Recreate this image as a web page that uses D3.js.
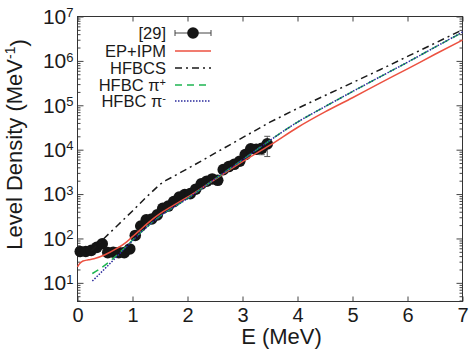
<!DOCTYPE html>
<html>
<head>
<meta charset="utf-8">
<script src="https://cdn.jsdelivr.net/npm/d3@7"></script>
<style>
body { margin: 0; background: #fff; }
svg text { font-family: "Liberation Sans", Arial, sans-serif; fill: #1a1a1a; }
</style>
</head>
<body>
<script>
// Margins around the plot box
var margin = {top: 16.5, right: 6.5, bottom: 53.5, left: 77.5};
var width = 469 - margin.left - margin.right,
    height = 355 - margin.top - margin.bottom;

// Experimental level density [29]
var expE = [0.05, 0.15, 0.25, 0.35, 0.45, 0.55, 0.65, 0.75, 0.85, 0.95,
            1.05, 1.15, 1.25, 1.35, 1.45, 1.55, 1.65, 1.75, 1.85, 1.95,
            2.05, 2.15, 2.25, 2.35, 2.45, 2.55, 2.65, 2.75, 2.85, 2.95,
            3.05, 3.15, 3.25, 3.35, 3.45];
var expRho = [51, 51, 54, 63, 76, 48, 49, 48, 48, 58,
              117, 191, 263, 275, 339, 479, 537, 676, 851, 977,
              1023, 1288, 1698, 1950, 2188, 2042, 3548, 4169, 4677, 5495,
              7762, 10500, 10200, 10700, 13500];
var expErr = [3, 3, 3, 4, 5, 3, 3, 3, 3, 4,
              7, 11, 15, 16, 19, 27, 30, 38, 48, 55,
              58, 73, 96, 110, 124, 116, 200, 240, 270, 320,
              450, 700, 1500, 3000, 6500];

// EP+IPM
var ipmE = [0, 0.05, 0.1, 0.2, 0.3, 0.5, 0.7, 0.9, 1.0, 1.1, 1.3, 1.5, 1.7,
            2.0, 2.5, 3.0, 3.5, 4.0, 4.5, 5.0, 5.5, 6.0, 6.5, 7.0];
var ipmRho = [23, 28, 31, 33, 35, 43, 58, 85, 110, 141, 234, 363, 513,
              851, 2140, 5370, 12600, 31600, 70800, 148000, 316000, 661000, 1410000, 2950000];

// HFBCS
var bcsE = [0.25, 0.5, 0.75, 1.0, 1.25, 1.5, 1.6, 2.0, 2.5, 3.0, 3.5, 4.0,
            4.5, 5.0, 5.5, 6.0, 6.5, 7.0];
var bcsRho = [52.5, 105, 209, 417, 851, 1660, 2000, 3720, 8320, 18600, 41700, 85100,
              166000, 324000, 631000, 1260000, 2510000, 5010000];

// HFBC pi+ and pi-
var hfbE = [0.27, 0.4, 0.6, 0.8, 1.0, 1.2, 1.5, 2.0, 2.5, 3.0, 3.5, 4.0,
            4.5, 5.0, 5.5, 6.0, 6.5, 7.0];
var hfbPlus = [16.2, 20.4, 31.6, 52.5, 91, 155, 316, 794, 2190, 5890, 16200, 41700,
               93300, 204000, 437000, 933000, 2040000, 4370000];
var hfbMinus = [11, 15.8, 28, 50, 89, 155, 316, 794, 2190, 5890, 16200, 41700,
                93300, 204000, 437000, 933000, 2040000, 4470000];

// Tick values
var xTicks = [0, 1, 2, 3, 4, 5, 6, 7];
var yTicks = [10, 100, 1000, 10000, 100000, 1000000, 10000000];

function draw() {
    const svg = d3.select("body")
        .append("svg")
        .attr("width", 469)
        .attr("height", 355)
        .append("g")
        .attr("transform", `translate(${margin.left},${margin.top})`);

    const x = d3.scaleLinear().domain([0, 7]).range([0, width]);
    const y = d3.scaleLog().domain([3.8, 1e7]).range([height, 0]);

    // minor ticks on the log axis
    const minors = [];
    for (let p = 0; p < 7; p++) {
        for (let k = 2; k <= 9; k++) {
            const v = k * Math.pow(10, p);
            if (v >= 3.8 && v <= 1e7) minors.push(v);
        }
    }

    function styleAxis(g) {
        g.select(".domain").remove();
        g.selectAll(".tick line").attr("stroke", "#444");
    }

    // bottom and top axes
    const gx = svg.append("g")
        .attr("transform", `translate(0,${height})`)
        .call(d3.axisBottom(x).tickValues(xTicks).tickFormat(d3.format("d"))
            .tickSizeInner(-5).tickSizeOuter(0).tickPadding(6))
        .call(styleAxis);
    gx.selectAll("text").attr("font-size", "20px").attr("fill", "#1a1a1a");

    svg.append("g")
        .call(d3.axisTop(x).tickValues(xTicks).tickSizeInner(-5).tickSizeOuter(0).tickFormat(""))
        .call(styleAxis);

    // left axis with 10^n labels
    const gy = svg.append("g")
        .call(d3.axisLeft(y).tickValues(yTicks).tickSizeInner(-6).tickSizeOuter(0).tickPadding(4))
        .call(styleAxis);
    gy.selectAll(".tick text").each(function(d) {
        const t = d3.select(this).text(null).attr("font-size", "21px").attr("fill", "#1a1a1a");
        t.append("tspan").text("10");
        t.append("tspan").attr("dy", "-0.5em").attr("font-size", "13px").text(Math.round(Math.log10(d)));
    });

    svg.append("g")
        .call(d3.axisLeft(y).tickValues(minors).tickSizeInner(-3).tickSizeOuter(0).tickFormat(""))
        .call(styleAxis);

    // right axis mirror
    svg.append("g")
        .attr("transform", `translate(${width},0)`)
        .call(d3.axisRight(y).tickValues(yTicks).tickSizeInner(-6).tickSizeOuter(0).tickFormat(""))
        .call(styleAxis);
    svg.append("g")
        .attr("transform", `translate(${width},0)`)
        .call(d3.axisRight(y).tickValues(minors).tickSizeInner(-3).tickSizeOuter(0).tickFormat(""))
        .call(styleAxis);

    // plot frame
    svg.append("rect")
        .attr("width", width)
        .attr("height", height)
        .attr("fill", "none")
        .attr("stroke", "#333");

    // axis titles
    svg.append("text")
        .attr("x", 204)
        .attr("y", 327.5)
        .attr("text-anchor", "middle")
        .attr("font-size", "22px")
        .text("E (MeV)");

    const yl = svg.append("text")
        .attr("transform", `translate(${-56},${128}) rotate(-90)`)
        .attr("text-anchor", "middle")
        .attr("font-size", "22px");
    yl.append("tspan").text("Level Density (MeV");
    yl.append("tspan").attr("dy", "-0.5em").attr("font-size", "14px").text("-1");
    yl.append("tspan").attr("dy", "0.5em").text(")");

    // experimental points with error bars
    const exp = d3.zip(expE, expRho, expErr);
    const eb = svg.append("g").attr("stroke", "#555").attr("stroke-width", 1);
    exp.forEach(function(d) {
        const y0 = y(d[1] - d[2]), y1 = y(d[1] + d[2]), xc = x(d[0]);
        eb.append("line").attr("x1", xc).attr("x2", xc).attr("y1", y0).attr("y2", y1);
        eb.append("line").attr("x1", xc - 3).attr("x2", xc + 3).attr("y1", y0).attr("y2", y0);
        eb.append("line").attr("x1", xc - 3).attr("x2", xc + 3).attr("y1", y1).attr("y2", y1);
    });
    svg.append("g").selectAll("circle")
        .data(exp)
        .join("circle")
        .attr("cx", d => x(d[0]))
        .attr("cy", d => y(d[1]))
        .attr("r", 5.8)
        .attr("fill", "#151515");

    // theory curves
    const line = d3.line().x(d => x(d[0])).y(d => y(d[1]));
    const series = [
        {pts: d3.zip(ipmE, ipmRho), color: "#ec5140", dash: null, curve: d3.curveMonotoneX},
        {pts: d3.zip(bcsE, bcsRho), color: "#1a1a1a", dash: "7,4,2,4", curve: d3.curveLinear},
        {pts: d3.zip(hfbE, hfbPlus), color: "#1fb552", dash: "7,5", curve: d3.curveMonotoneX},
        {pts: d3.zip(hfbE, hfbMinus), color: "#2a2a9c", dash: "1.5,1.5", curve: d3.curveMonotoneX}
    ];
    series.forEach(function(s) {
        svg.append("path")
            .datum(s.pts)
            .attr("fill", "none")
            .attr("stroke", s.color)
            .attr("stroke-width", 1.5)
            .attr("stroke-dasharray", s.dash)
            .attr("d", line.curve(s.curve));
    });

    // legend
    const lg = svg.append("g").attr("transform", `translate(${-margin.left},${-margin.top})`);
    const rows = [33, 51, 68, 85, 101];
    const labels = ["[29]", "EP+IPM", "HFBCS", "HFBC \u03c0", "HFBC \u03c0"];
    const sups = ["", "", "", "+", "-"];
    rows.forEach(function(ry, i) {
        const t = lg.append("text")
            .attr("x", 166)
            .attr("y", ry + 5.5)
            .attr("text-anchor", "end")
            .attr("font-size", "16.5px");
        t.append("tspan").text(labels[i]);
        if (sups[i]) {
            t.append("tspan").attr("dy", "-0.4em").attr("font-size", "11px").text(sups[i]);
        }
    });
    lg.append("line").attr("x1", 175).attr("x2", 211).attr("y1", rows[0]).attr("y2", rows[0])
        .attr("stroke", "#444");
    [175, 211].forEach(function(cx) {
        lg.append("line").attr("x1", cx).attr("x2", cx).attr("y1", rows[0] - 3).attr("y2", rows[0] + 3)
            .attr("stroke", "#444");
    });
    lg.append("circle").attr("cx", 193).attr("cy", rows[0]).attr("r", 5.8).attr("fill", "#151515");
    series.forEach(function(s, i) {
        lg.append("line")
            .attr("x1", 175).attr("x2", 211)
            .attr("y1", rows[i + 1]).attr("y2", rows[i + 1])
            .attr("stroke", s.color)
            .attr("stroke-width", 1.5)
            .attr("stroke-dasharray", s.dash);
    });
}

d3.select(window).on("load", draw);
</script>
</body>
</html>
